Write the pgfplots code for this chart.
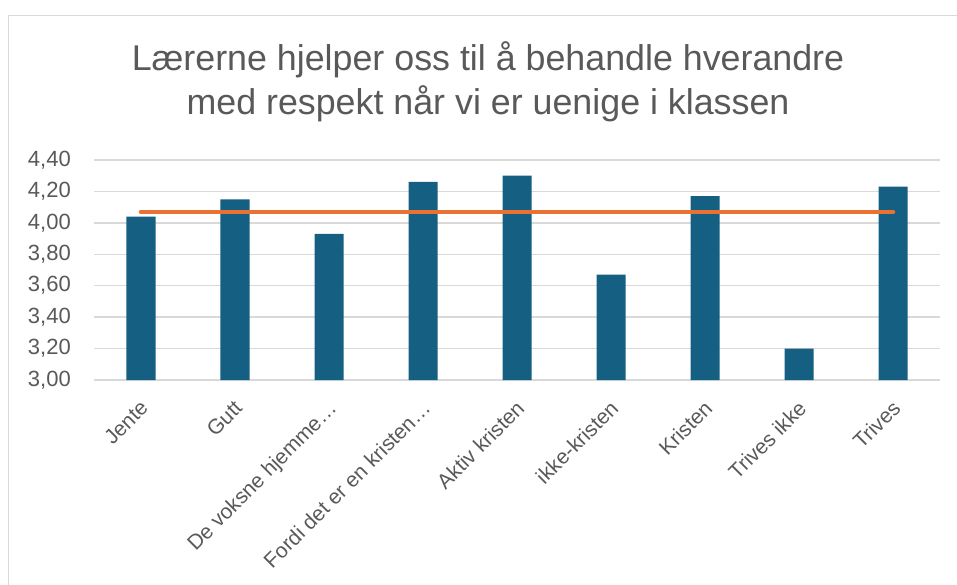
\documentclass[border=0pt]{standalone}
\usepackage{pgfplots}
\pgfplotsset{compat=1.18}
\usetikzlibrary{calc}
\usepackage{fontspec}
\setmainfont{Liberation Sans}
\definecolor{barblue}{HTML}{156082}
\definecolor{lineorange}{HTML}{E97132}
\definecolor{gridgray}{HTML}{D9D9D9}
\definecolor{txtgray}{HTML}{595959}

\begin{document}
\begin{tikzpicture}[x=1pt,y=1pt]
\begin{axis}[
  scale only axis,width=846pt,height=220pt,
  xmin=-0.5,xmax=8.5,ymin=3,ymax=4.4,
  xtick={0,...,8},
  xticklabels={Jente,Gutt,De voksne hjemme…,Fordi det er en kristen…,Aktiv kristen,ikke-kristen,Kristen,Trives ikke,Trives},
  ytick={3,3.2,...,4.41},
  major tick length=0pt,
  axis line style={draw=none},
  ymajorgrids,
  grid style={gridgray,line width=1.3pt},
  yticklabel style={anchor=east,inner sep=0pt,xshift=-23pt,text=txtgray,font=\fontsize{22}{26}\selectfont},
  xticklabel style={yshift=-19pt,xshift=-2pt,rotate=45,anchor=north east,inner sep=0pt,text=txtgray,font=\fontsize{21}{25}\selectfont},
  /pgf/number format/.cd,use comma,fixed,fixed zerofill,precision=2,1000 sep={},assume math mode=true,
]
\addplot[ybar,bar width=29pt,fill=barblue,draw=none] coordinates {
  (0,4.04) (1,4.15) (2,3.93) (3,4.26) (4,4.30) (5,3.67) (6,4.17) (7,3.20) (8,4.23)};
\addplot[lineorange,line width=4.5pt,line cap=round] coordinates {
  (0,4.07) (1,4.07) (2,4.07) (3,4.07) (4,4.07) (5,4.07) (6,4.07) (7,4.07) (8,4.07)};
\coordinate (O) at (rel axis cs:0,0);
\end{axis}
\pgfresetboundingbox
\useasboundingbox ($(O)+(-94,380)$) rectangle ($(O)+(863,-205)$);
% chart frame (only left and top edges are visible)
\draw[gridgray,line width=1.3pt] ($(O)+(-85.5,-300)$) -- ($(O)+(-85.5,364.5)$) -- ($(O)+(1000,364.5)$);
% title
\node[anchor=base,text=txtgray,font=\fontsize{35.8}{42}\selectfont] at ($(O)+(394,309)$) {Lærerne hjelper oss til å behandle hverandre};
\node[anchor=base,text=txtgray,font=\fontsize{35.8}{42}\selectfont] at ($(O)+(394,265)$) {med respekt når vi er uenige i klassen};
\end{tikzpicture}
\end{document}
